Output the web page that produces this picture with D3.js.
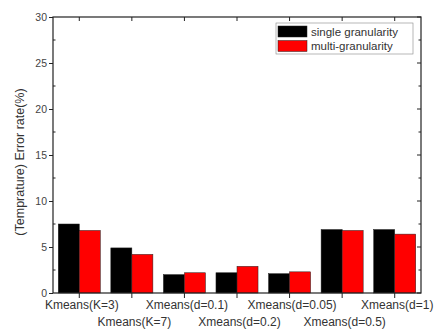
<!DOCTYPE html>
<html>
<head>
<meta charset="utf-8">
<script src="https://cdn.jsdelivr.net/npm/d3@7"></script>
<style>
  body { margin: 0; background: #fff; }
  text { font-family: "Liberation Sans", Arial, sans-serif; fill: #333; }
</style>
</head>
<body>
<svg id="vis" width="439" height="333"></svg>
<script>
const categories = ["Kmeans(K=3)", "Kmeans(K=7)", "Xmeans(d=0.1)", "Xmeans(d=0.2)", "Xmeans(d=0.05)", "Xmeans(d=0.5)", "Xmeans(d=1)"];
const singleVals = [7.5, 4.9, 2.0, 2.2, 2.1, 6.9, 6.9];
const multiVals = [6.8, 4.2, 2.2, 2.9, 2.3, 6.8, 6.4];
const seriesNames = ["single granularity", "multi-granularity"];
const seriesColours = ["#000000", "#ff0000"];
const yTicks = [0, 5, 10, 15, 20, 25, 30];
const yMinor = [2.5, 7.5, 12.5, 17.5, 22.5, 27.5];

const plotLeft = 53, plotRight = 421, plotTop = 17, plotBottom = 293;

const svg = d3.select("#vis");

const x = d3.scaleBand().domain(categories).range([plotLeft, plotRight]).paddingInner(0.2).paddingOuter(0.1);
const x1 = d3.scaleBand().domain([0, 1]).range([0, x.bandwidth()]);
const y = d3.scaleLinear().domain([0, 30]).range([plotBottom, plotTop]);

const rows = categories.map((c, i) => ({ cat: c, vals: [singleVals[i], multiVals[i]] }));

// bars
svg.append("g")
  .selectAll("g")
  .data(rows)
  .join("g")
  .attr("transform", d => `translate(${x(d.cat)},0)`)
  .selectAll("rect")
  .data(d => d.vals.map((v, k) => ({ v, k })))
  .join("rect")
  .attr("x", d => x1(d.k))
  .attr("y", d => y(d.v))
  .attr("width", x1.bandwidth())
  .attr("height", d => y(0) - y(d.v))
  .attr("fill", d => seriesColours[d.k])
  .attr("stroke", "#222")
  .attr("stroke-width", 0.5);

// frame
svg.append("rect")
  .attr("x", plotLeft).attr("y", plotTop)
  .attr("width", plotRight - plotLeft).attr("height", plotBottom - plotTop)
  .attr("fill", "none").attr("stroke", "#222").attr("stroke-width", 1.2);

// left axis
const yAxis = svg.append("g")
  .attr("transform", `translate(${plotLeft},0)`)
  .call(d3.axisLeft(y).tickValues(yTicks).tickSize(4).tickPadding(2));
yAxis.select(".domain").remove();
yAxis.selectAll("text").style("font-size", "10.5px").style("fill", "#444");
yAxis.selectAll("line").attr("stroke", "#222");

svg.append("g")
  .selectAll("line")
  .data(yMinor)
  .join("line")
  .attr("x1", plotLeft).attr("x2", plotLeft + 2.5)
  .attr("y1", d => y(d)).attr("y2", d => y(d))
  .attr("stroke", "#222");

// right axis ticks (inward)
svg.append("g")
  .selectAll("line")
  .data(yTicks.concat(yMinor))
  .join("line")
  .attr("x1", plotRight).attr("x2", d => plotRight - (yTicks.includes(d) ? 4 : 2.5))
  .attr("y1", d => y(d)).attr("y2", d => y(d))
  .attr("stroke", "#222");

// bottom axis
const xAxis = svg.append("g")
  .attr("transform", `translate(0,${plotBottom})`)
  .call(d3.axisBottom(x).tickSize(5).tickPadding(3));
xAxis.select(".domain").remove();
xAxis.selectAll("line").attr("stroke", "#222");
xAxis.selectAll("text")
  .style("font-size", "12px")
  .style("fill", "#333")
  .attr("dy", null)
  .attr("x", 2.5)
  .attr("y", (d, i) => i % 2 === 0 ? 15.5 : 33);

// top ticks (inward)
svg.append("g")
  .selectAll("line")
  .data(categories)
  .join("line")
  .attr("x1", d => x(d) + x.bandwidth() / 2).attr("x2", d => x(d) + x.bandwidth() / 2)
  .attr("y1", plotTop).attr("y2", plotTop + 4)
  .attr("stroke", "#222");

// y label
svg.append("text")
  .attr("transform", `translate(24,162) rotate(-90)`)
  .attr("text-anchor", "middle")
  .style("font-size", "12.5px")
  .text("(Temprature) Error rate(%)");

// legend
const legend = svg.append("g").attr("transform", "translate(276,23)");
legend.append("rect")
  .attr("width", 137).attr("height", 31)
  .attr("fill", "#fff").attr("stroke", "#888").attr("stroke-width", 0.6);
legend.selectAll("g")
  .data(seriesNames)
  .join("g")
  .attr("transform", (d, i) => `translate(2,${3 + i * 14.5})`)
  .each(function (d, i) {
    d3.select(this).append("rect")
      .attr("width", 29).attr("height", 11)
      .attr("fill", seriesColours[i]).attr("stroke", "#222").attr("stroke-width", 0.5);
    d3.select(this).append("text")
      .attr("x", 33).attr("y", 9.5)
      .style("font-size", "11.5px")
      .text(d);
  });
</script>
</body>
</html>
